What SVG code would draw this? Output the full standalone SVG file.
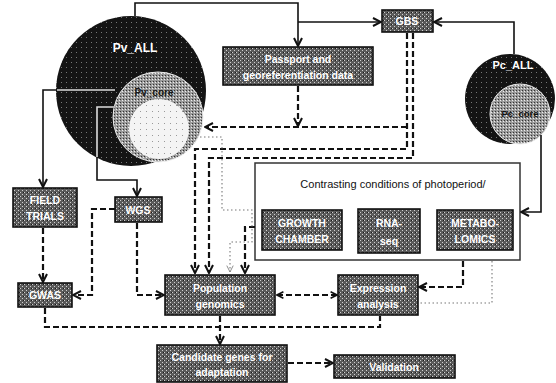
<svg xmlns="http://www.w3.org/2000/svg" width="556" height="383" viewBox="0 0 556 383">
<style>
  .box{fill:url(#tone);stroke:#111;stroke-width:1.6}
  .bt{font-family:"Liberation Sans",Arial,sans-serif;font-weight:bold;font-size:10.5px;fill:#fff;text-anchor:middle}
  .solid{fill:none;stroke:#111;stroke-width:1.6}
  .dash{fill:none;stroke:#111;stroke-width:2.2;stroke-dasharray:6,3}
  .dot{fill:none;stroke:#777;stroke-width:1.1;stroke-dasharray:1.5,2.5}
  .light{fill:none;stroke:#ddd;stroke-width:1.6}
  .lbl{font-family:"Liberation Sans",Arial,sans-serif;font-weight:bold;text-anchor:middle}
</style>
<defs>
  <pattern id="tone" width="4" height="4" patternUnits="userSpaceOnUse">
    <rect width="4" height="4" fill="#5a5a5a"/>
    <rect x="0" y="0" width="1" height="1" fill="#d0d0d0"/>
    <rect x="2" y="2" width="1" height="1" fill="#d0d0d0"/>
    <rect x="3" y="0" width="1" height="1" fill="#1a1a1a"/>
  </pattern>
  <pattern id="darkTone" width="5" height="5" patternUnits="userSpaceOnUse">
    <rect width="5" height="5" fill="#141414"/>
    <rect x="1" y="2" width="1" height="1" fill="#777"/>
  </pattern>
  <pattern id="midTone" width="3" height="3" patternUnits="userSpaceOnUse">
    <rect width="3" height="3" fill="#9a9a9a"/>
    <rect x="0" y="0" width="1" height="1" fill="#333"/>
    <rect x="2" y="1" width="1" height="1" fill="#eee"/>
  </pattern>
  <pattern id="whiteTone" width="6" height="6" patternUnits="userSpaceOnUse">
    <rect width="6" height="6" fill="#f4f4f4"/>
    <rect x="2" y="3" width="1" height="1" fill="#999"/>
  </pattern>
  <marker id="ah" viewBox="0 0 10 10" refX="9" refY="5" markerWidth="10" markerHeight="10" markerUnits="userSpaceOnUse" orient="auto">
    <path d="M1,1 L9,5 L1,9" fill="none" stroke="#111" stroke-width="2"/>
  </marker>
  <marker id="ahs" viewBox="0 0 10 10" refX="9" refY="5" markerWidth="8" markerHeight="8" markerUnits="userSpaceOnUse" orient="auto-start-reverse">
    <path d="M1,1 L9,5 L1,9" fill="none" stroke="#111" stroke-width="2"/>
  </marker>
  <marker id="ahd" viewBox="0 0 10 10" refX="9" refY="5" markerWidth="8" markerHeight="8" markerUnits="userSpaceOnUse" orient="auto">
    <path d="M1,1 L9,5 L1,9" fill="none" stroke="#888" stroke-width="1.2"/>
  </marker>
</defs>

<g id="pv_all">
  <circle cx="131" cy="91" r="75" fill="url(#darkTone)"/>
  <text class="lbl" x="135" y="52" font-size="12" fill="#fff">Pv_ALL</text>
</g>
<g id="pv_core">
  <circle cx="158" cy="117" r="45" fill="url(#midTone)" stroke="#eee" stroke-width="1"/>
  <text class="lbl" x="154" y="96" font-size="10" fill="#1a1a1a">Pv_core</text>
</g>
<g id="pv_sub">
  <circle cx="159" cy="129" r="30" fill="url(#whiteTone)"/>
</g>

<g id="pc_all">
  <circle cx="510" cy="99" r="45" fill="url(#darkTone)"/>
  <text class="lbl" x="513" y="69" font-size="11" fill="#fff">Pc_ALL</text>
</g>
<g id="pc_core">
  <circle cx="520" cy="114" r="30" fill="url(#midTone)" stroke="#eee" stroke-width="1"/>
  <text class="lbl" x="520" y="117" font-size="9.5" fill="#111">Pc_core</text>
</g>

<g id="contrasting">
  <rect x="255" y="163" width="265" height="97" fill="#fff" stroke="#333" stroke-width="1.5"/>
  <text x="393" y="188" font-family="'Liberation Sans',Arial,sans-serif" font-size="11" fill="#111" text-anchor="middle">Contrasting conditions of photoperiod/</text>
</g>
<g id="growth">
  <rect class="box" x="262" y="210" width="80" height="40"/>
  <text class="bt" x="302" y="227">GROWTH</text>
  <text class="bt" x="302" y="243">CHAMBER</text>
</g>
<g id="rnaseq">
  <rect class="box" x="358" y="209" width="62" height="44"/>
  <text class="bt" x="389" y="227" font-size="12">RNA-</text>
  <text class="bt" x="389" y="245" font-size="12">seq</text>
</g>
<g id="metabolomics">
  <rect class="box" x="437" y="210" width="76" height="40"/>
  <text class="bt" x="475" y="227">METABO-</text>
  <text class="bt" x="475" y="243">LOMICS</text>
</g>

<g id="passport">
  <rect class="box" x="223" y="47" width="150" height="38"/>
  <text class="bt" x="298" y="63">Passport and</text>
  <text class="bt" x="298" y="79">georeferentiation data</text>
</g>
<g id="gbs">
  <rect class="box" x="382" y="10" width="51" height="22"/>
  <text class="bt" x="407" y="25">GBS</text>
</g>
<g id="field">
  <rect class="box" x="13" y="188" width="64" height="39"/>
  <text class="bt" x="45" y="204">FIELD</text>
  <text class="bt" x="45" y="220">TRIALS</text>
</g>
<g id="wgs">
  <rect class="box" x="115" y="197" width="47" height="25"/>
  <text class="bt" x="138" y="214" font-size="11.5">WGS</text>
</g>
<g id="gwas">
  <rect class="box" x="18" y="283" width="54" height="24"/>
  <text class="bt" x="45" y="299">GWAS</text>
</g>
<g id="popgen">
  <rect class="box" x="165" y="275" width="110" height="40"/>
  <text class="bt" x="220" y="292">Population</text>
  <text class="bt" x="220" y="308">genomics</text>
</g>
<g id="expression">
  <rect class="box" x="338" y="275" width="80" height="40"/>
  <text class="bt" x="378" y="292">Expression</text>
  <text class="bt" x="378" y="308">analysis</text>
</g>
<g id="candidate">
  <rect class="box" x="157" y="345" width="130" height="37"/>
  <text class="bt" x="222" y="361">Candidate genes for</text>
  <text class="bt" x="222" y="376">adaptation</text>
</g>
<g id="validation">
  <rect class="box" x="334" y="355" width="121" height="23"/>
  <text class="bt" x="394" y="371" font-size="13">Validation</text>
</g>

<g id="connectors">
  <path class="solid" d="M135,16 V3 H298 V46" marker-end="url(#ah)"/>
  <path class="solid" d="M298,22 H381" marker-end="url(#ah)"/>
  <path class="solid" d="M514,54 V22 H434" marker-end="url(#ah)"/>
  <path class="solid" d="M541,135 V212 H521" marker-end="url(#ah)"/>
  <path class="solid" d="M116,90 H43 V187" marker-end="url(#ah)"/>
  <path class="light" d="M115,90 H57"/>
  <path class="solid" d="M115,107 H97 V180 H137 V196" marker-end="url(#ah)"/>
  <path class="light" d="M115,107 H97 V157"/>
  <path class="dash" d="M298,86 V126" marker-end="url(#ah)"/>
  <path class="dash" d="M407,127 H205" marker-end="url(#ah)"/>
  <path class="dash" d="M407,33 V149 H195 V273" marker-end="url(#ah)"/>
  <path class="dash" d="M413,33 V158 H209 V273" marker-end="url(#ah)"/>
  <path class="dash" d="M255,227 H245 V273" marker-end="url(#ah)"/>
  <path class="dash" d="M115,209 H92 V295 H73" marker-end="url(#ah)"/>
  <path class="dash" d="M137,223 V295 H164" marker-end="url(#ah)"/>
  <path class="dash" d="M43,228 V282" marker-end="url(#ah)"/>
  <path class="dash" d="M277,295 H337" marker-start="url(#ahs)" marker-end="url(#ahs)"/>
  <path class="dash" d="M463,261 V287 H419" marker-end="url(#ah)"/>
  <path class="dash" d="M45,308 V327 H380 V316"/>
  <path class="dash" d="M220,316 V344" marker-end="url(#ah)"/>
  <path class="dash" d="M288,363 H333" marker-end="url(#ah)"/>
  <path class="dot" d="M188,137 H222 V210 H252 V242 H230 V272" marker-end="url(#ahd)"/>
  <path class="dot" d="M492,261 V303 H420"/>
</g>
</svg>
